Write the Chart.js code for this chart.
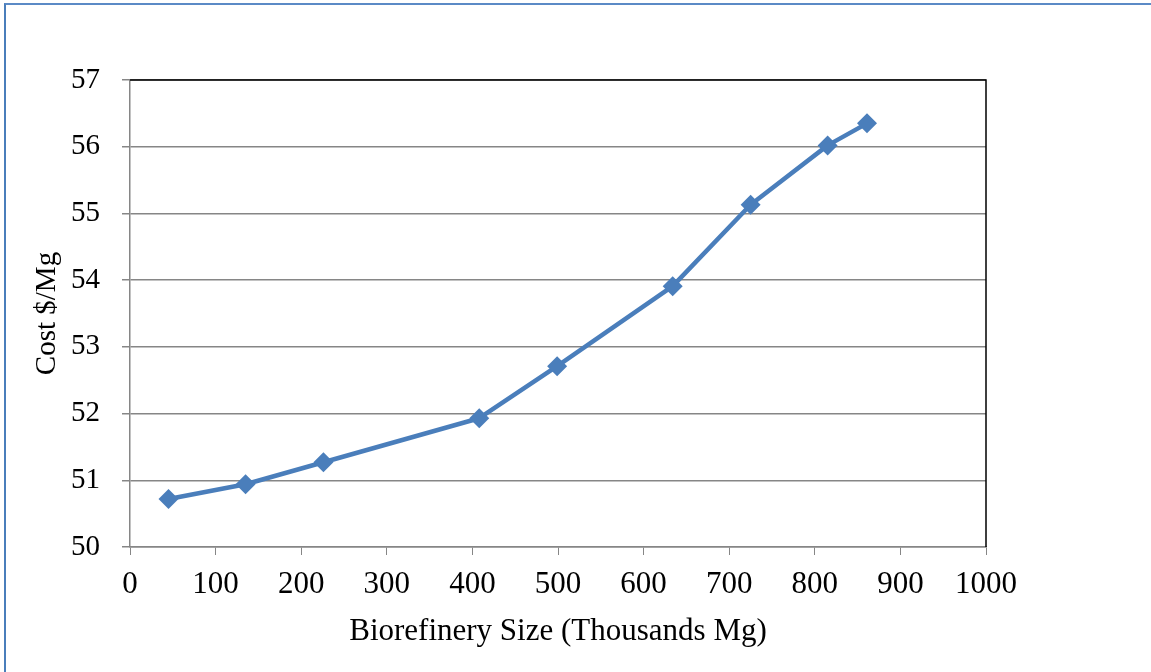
<!DOCTYPE html>
<html>
<head>
<meta charset="utf-8">
<script src="https://cdn.jsdelivr.net/npm/chart.js@4"></script>
<style>
  html, body { margin: 0; padding: 0; background: #fff; overflow: hidden; }
  #wrap { position: relative; width: 1151px; height: 672px; }
  #frame {
    position: absolute; left: 4px; top: 3px; width: 1200px; height: 720px;
    border-left: 2px solid #4a7ebb; border-top: 2px solid #5b8ac6;
    pointer-events: none;
  }
  canvas { position: absolute; left: 0; top: 0; }
</style>
</head>
<body>
<div id="wrap">
  <canvas id="chart" width="1151" height="672"></canvas>
  <div id="frame"></div>
</div>
<script>
// biorefinery size (thousands Mg) vs. cost ($/Mg)
const sizes = [45, 135, 226, 408, 499, 634, 725, 815, 861];
const costs = [50.72, 50.94, 51.27, 51.93, 52.71, 53.91, 55.13, 56.02, 56.35];
const xTitle = 'Biorefinery Size (Thousands Mg)';
const yTitle = 'Cost $/Mg';

const points = sizes.map((s, i) => ({ x: s, y: costs[i] }));

const serif = 'Liberation Serif, Times New Roman, serif';
const gridGray = '#868686';

// black top and right edges of the plot box
const plotFrame = {
    id: 'plotFrame',
    afterDraw(chart) {
        const { ctx, chartArea: a } = chart;
        ctx.save();
        ctx.strokeStyle = '#000';
        ctx.lineWidth = 1.5;
        ctx.beginPath();
        ctx.moveTo(a.left, a.top);
        ctx.lineTo(a.right, a.top);
        ctx.lineTo(a.right, a.bottom);
        ctx.stroke();
        ctx.restore();
    }
};

Chart.defaults.font.family = serif;
Chart.defaults.color = '#000';

new Chart(document.getElementById('chart'), {
    type: 'scatter',
    data: {
        datasets: [{
            data: points,
            showLine: true,
            borderColor: '#4a7ebb',
            backgroundColor: '#4a7ebb',
            borderWidth: 4.5,
            borderJoinStyle: 'round',
            borderCapStyle: 'round',
            pointStyle: 'rectRot',
            pointRadius: 10,
            pointHoverRadius: 10,
            pointBorderWidth: 0
        }]
    },
    options: {
        responsive: false,
        animation: false,
        events: [],
        layout: { padding: { left: 0, top: 80, right: 165, bottom: 0 } },
        plugins: { legend: { display: false }, tooltip: { enabled: false } },
        scales: {
            x: {
                type: 'linear',
                min: 0, max: 1000,
                afterFit: s => { s.height = 125; },
                ticks: {
                    stepSize: 100, padding: 11, maxRotation: 0,
                    font: { size: 31 }, color: '#000',
                    callback: v => String(v)
                },
                grid: { drawOnChartArea: false, color: gridGray, tickLength: 8 },
                border: { color: gridGray, width: 1.5 },
                title: { display: true, text: xTitle, font: { size: 31 }, color: '#000', padding: { top: 0, bottom: 22 } }
            },
            y: {
                min: 50, max: 57,
                afterFit: s => { s.width = 130; },
                ticks: { stepSize: 1, padding: 22, font: { size: 29 }, color: '#000' },
                grid: { color: gridGray, lineWidth: 1.5, tickLength: 8 },
                border: { color: gridGray, width: 1.5 },
                title: { display: true, text: yTitle, font: { size: 29 }, color: '#000', padding: { top: 30, bottom: 0 } }
            }
        }
    },
    plugins: [plotFrame]
});
</script>
</body>
</html>
